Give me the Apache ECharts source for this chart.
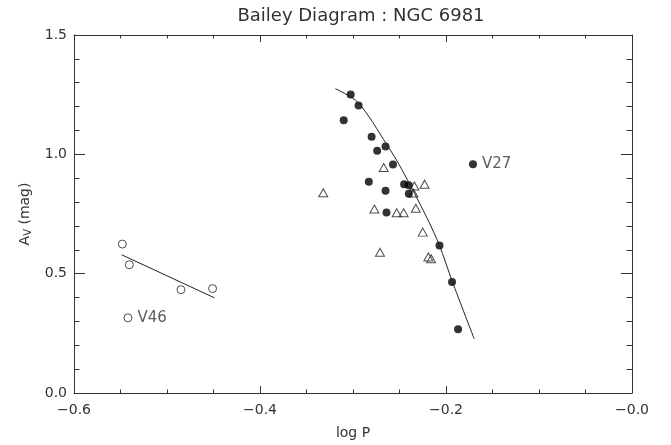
<!DOCTYPE html>
<html>
<head>
<meta charset="utf-8">
<script src="https://cdn.jsdelivr.net/npm/echarts@6/dist/echarts.min.js"></script>
<style>
  html, body { margin: 0; padding: 0; background: #fff; }
  #chart { width: 671px; height: 445px; }
</style>
</head>
<body>
<div id="chart"></div>
<script>
// RR Lyrae stars of NGC 6981: log P vs A_V
const rrabLogP = [-0.3025, -0.294, -0.310, -0.280, -0.265, -0.274, -0.257, -0.283, -0.245, -0.240, -0.265, -0.240, -0.264, -0.207, -0.1935, -0.187, -0.171]
const rrabAmp = [1.251, 1.205, 1.143, 1.074, 1.033, 1.015, 0.957, 0.885, 0.875, 0.870, 0.847, 0.835, 0.756, 0.618, 0.465, 0.267, 0.958]
const rrabNames = ['', '', '', '', '', '', '', '', '', '', '', '', '', '', '', '', 'V27']

const triLogP = [-0.267, -0.332, -0.234, -0.223, -0.235, -0.277, -0.253, -0.2455, -0.2325, -0.225, -0.271, -0.219, -0.216]
const triAmp = [0.945, 0.839, 0.867, 0.875, 0.838, 0.771, 0.755, 0.755, 0.774, 0.674, 0.590, 0.570, 0.5625]

const rrcLogP = [-0.548, -0.5405, -0.485, -0.451, -0.542]
const rrcAmp = [0.624, 0.5375, 0.433, 0.4375, 0.315]
const rrcNames = ['', '', '', '', 'V46']

// fitted loci
const rrcFitLogP = [-0.5487, -0.4491]
const rrcFitAmp = [0.579, 0.399]
const rrabFitLogP = [-0.319, -0.2946, -0.2638, -0.2476, -0.2208, -0.2072, -0.1935, -0.1696]
const rrabFitAmp = [1.275, 1.217, 1.042, 0.9375, 0.736, 0.620, 0.470, 0.226]

const xTicks = [-0.6, -0.4, -0.2, 0.0]
const yTicks = [0.0, 0.5, 1.0, 1.5]

const font = 'DejaVu Sans'
const ink = '#333'

function pairs(xs, ys, names) {
  return xs.map((x, i) => names ? { name: names[i], value: [x, ys[i]] } : [x, ys[i]])
}

function fmtX(v) {
  let s = Math.abs(v).toFixed(1)
  return (v <= 0 ? '\u2212' : '') + s
}

const chart = echarts.init(document.getElementById('chart'))

const xBase = {
  min: xTicks[0],
  max: xTicks[xTicks.length - 1],
  interval: 0.2,
  axisLine: { show: true, onZero: false, lineStyle: { color: ink, width: 1 } },
  axisTick: { show: true, inside: true, length: 7, lineStyle: { color: ink } },
  minorTick: { show: true, splitNumber: 4, length: 3.5, lineStyle: { color: ink } },
  splitLine: { show: false }
}
const yBase = {
  min: yTicks[0],
  max: yTicks[yTicks.length - 1],
  interval: 0.5,
  axisLine: { show: true, onZero: false, lineStyle: { color: ink, width: 1 } },
  axisTick: { show: true, inside: true, length: 11, lineStyle: { color: ink } },
  minorTick: { show: true, splitNumber: 5, length: 5.5, lineStyle: { color: ink } },
  splitLine: { show: false }
}

chart.setOption({
  animation: false,
  backgroundColor: '#fff',
  title: {
    text: 'Bailey Diagram : NGC 6981',
    left: 356,
    textAlign: 'center',
    top: 2,
    textStyle: { fontFamily: font, fontSize: 18, fontWeight: 'normal', color: ink }
  },
  grid: { left: 74, right: 39, top: 35, bottom: 50 },
  xAxis: [
    Object.assign({}, xBase, {
      type: 'value',
      position: 'bottom',
      name: 'log P',
      nameLocation: 'middle',
      nameGap: 33,
      nameTextStyle: { fontFamily: font, fontSize: 14, color: ink },
      axisLabel: { margin: 10, fontFamily: font, fontSize: 14, color: ink, formatter: fmtX }
    }),
    Object.assign({}, xBase, {
      type: 'value',
      position: 'top',
      axisLabel: { show: false }
    })
  ],
  yAxis: [
    Object.assign({}, yBase, {
      type: 'value',
      position: 'left',
      name: '{a|A}{s|V}{a| (mag)}',
      nameLocation: 'middle',
      nameRotate: 90,
      nameGap: 40,
      nameTextStyle: {
        rich: {
          a: { fontFamily: font, fontSize: 14, color: ink },
          s: { fontFamily: font, fontSize: 10, color: ink, verticalAlign: 'bottom', padding: [6, 0, 0, 0] }
        }
      },
      axisLabel: { margin: 7, fontFamily: font, fontSize: 14, color: ink, formatter: v => v.toFixed(1) }
    }),
    Object.assign({}, yBase, {
      type: 'value',
      position: 'right',
      axisLabel: { show: false }
    })
  ],
  series: [
    {
      type: 'line',
      data: pairs(rrabFitLogP, rrabFitAmp),
      smooth: 0.3,
      showSymbol: false,
      lineStyle: { color: '#222', width: 1 }
    },
    {
      type: 'line',
      data: pairs(rrcFitLogP, rrcFitAmp),
      showSymbol: false,
      lineStyle: { color: '#222', width: 1 }
    },
    {
      type: 'scatter',
      symbol: 'triangle',
      symbolSize: [9, 8],
      data: pairs(triLogP, triAmp),
      itemStyle: { color: 'rgba(0,0,0,0)', borderColor: '#222', borderWidth: 1 }
    },
    {
      type: 'scatter',
      symbol: 'circle',
      symbolSize: 8,
      data: pairs(rrabLogP, rrabAmp, rrabNames),
      itemStyle: { color: '#000' },
      label: {
        show: true,
        position: 'right',
        distance: 5,
        formatter: p => p.name,
        fontFamily: font,
        fontSize: 15,
        color: ink
      }
    },
    {
      type: 'scatter',
      symbol: 'circle',
      symbolSize: 8,
      data: pairs(rrcLogP, rrcAmp, rrcNames),
      itemStyle: { color: 'rgba(0,0,0,0)', borderColor: '#222', borderWidth: 1 },
      label: {
        show: true,
        position: 'right',
        distance: 5,
        formatter: p => p.name,
        fontFamily: font,
        fontSize: 15,
        color: ink
      }
    }
  ]
})
</script>
</body>
</html>
